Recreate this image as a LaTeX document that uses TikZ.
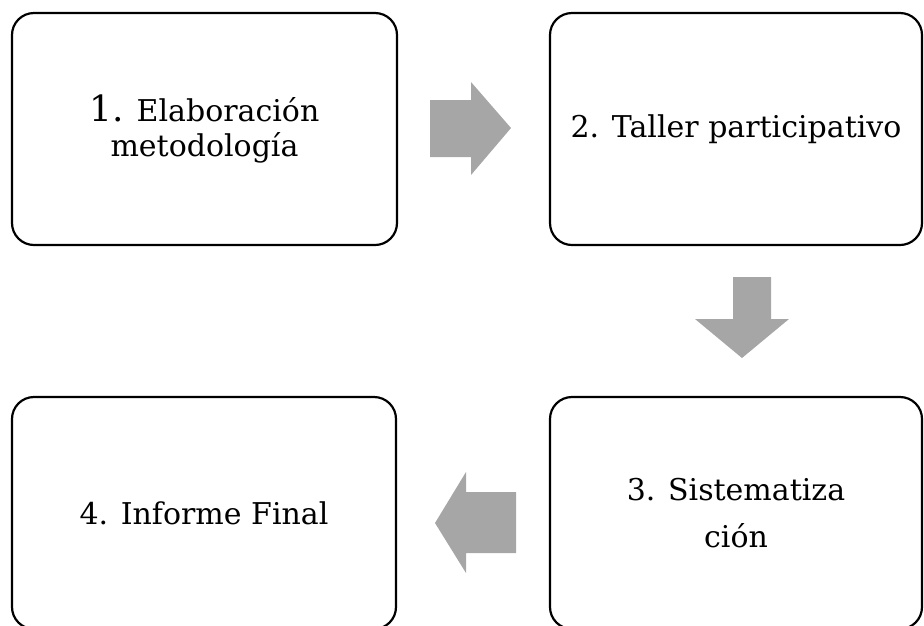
\documentclass[tikz,border=0pt]{standalone}
\usepackage{fontspec}
\setmainfont{DejaVu Serif}
\definecolor{arrowgray}{RGB}{166,166,166}
\begin{document}
\begin{tikzpicture}[x=1pt,y=-1pt,
  stepbox/.style={draw=black, line width=2.2pt, rounded corners=22pt,
    minimum height=232pt, inner sep=0pt, align=center,
    font=\fontsize{30}{35}\selectfont},
  blockarrow/.style={fill=arrowgray, draw=none}]
\useasboundingbox (0,0) rectangle (924,625);
\node[stepbox, minimum width=385pt] (b1) at (204.5,129) {{\fontsize{36}{35}\selectfont 1.} Elaboración\\metodología};
\node[stepbox, minimum width=372pt] (b2) at (736,129) {2. Taller participativo};
\node[stepbox, minimum width=372pt] (b3) at (736,513) {3. Sistematiza\\[12pt]ción};
\node[stepbox, minimum width=384pt] (b4) at (204,513) {4. Informe Final};
% right arrow b1 -> b2
\fill[blockarrow] (430,100) -- (471,100) -- (471,82) -- (511,128) -- (471,175) -- (471,157) -- (430,157) -- cycle;
% down arrow b2 -> b3
\fill[blockarrow] (733,277) -- (771,277) -- (771,319) -- (789,319) -- (742,358) -- (695,319) -- (733,319) -- cycle;
% left arrow b3 -> b4
\fill[blockarrow] (516,492) -- (466,492) -- (466,472) -- (435,523) -- (466,573) -- (466,553) -- (516,553) -- cycle;
\end{tikzpicture}
\end{document}
